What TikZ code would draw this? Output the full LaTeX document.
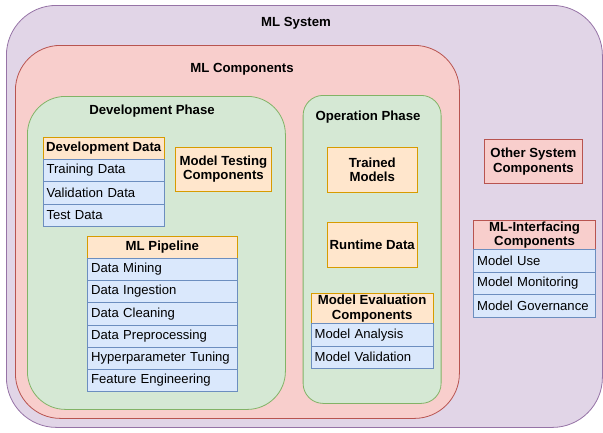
\documentclass[tikz,border=0pt]{standalone}
\usepackage{fontspec}
\setmainfont{Liberation Sans}
\usetikzlibrary{positioning}

\definecolor{sysfill}{HTML}{E1D5E7}
\definecolor{sysline}{HTML}{9673A6}
\definecolor{compfill}{HTML}{F8CECC}
\definecolor{compline}{HTML}{B85450}
\definecolor{phasefill}{HTML}{D5E8D4}
\definecolor{phaseline}{HTML}{82B366}
\definecolor{itemfill}{HTML}{FFE6CC}
\definecolor{itemline}{HTML}{D79B00}
\definecolor{rowfill}{HTML}{DAE8FC}
\definecolor{rowline}{HTML}{6C8EBF}

\begin{document}
\begin{tikzpicture}[x=1pt,y=-1pt,
  box/.style={anchor=north west,inner sep=0pt,line width=0.8pt},
  sysbox/.style={box,draw=sysline,fill=sysfill,rounded corners=50pt},
  compbox/.style={box,draw=compline,fill=compfill,rounded corners=45pt},
  phasebox/.style={box,draw=phaseline,fill=phasefill},
  title/.style={font=\fontsize{13.2}{14}\selectfont\bfseries},
  item/.style={box,draw=itemline,fill=itemfill,align=center,font=\fontsize{13.2}{14.5}\selectfont\bfseries},
  other/.style={item,draw=compline,fill=compfill},
  row/.style={box,draw=rowline,fill=rowfill,minimum height=22.3,inner xsep=3.5pt,align=left,font=\fontsize{13.1}{14}\selectfont}]
\useasboundingbox (0,0) rectangle (603,432);
% nested containers
\node[sysbox,minimum width=596,minimum height=422] (mlsys) at (6,5) {};
\node[compbox,minimum width=444,minimum height=373] (mlcomp) at (15,45) {};
\node[phasebox,rounded corners=38pt,minimum width=258,minimum height=313] (devphase) at (27,96) {};
\node[phasebox,rounded corners=20pt,minimum width=138,minimum height=308] (opphase) at (302.7,95) {};
\node[title] (mlsystitle) at (296,23) {ML System};
\node[title] (mlcomptitle) at (242,69) {ML Components};
\node[title] (devtitle) at (152,111) {Development Phase};
\node[title] (optitle) at (368,117) {Operation Phase};

% development phase
\node[item,minimum width=121.3,minimum height=22.3] (devdata) at (42.7,136.7) {Development Data};
\foreach \txt [count=\i] in {Training Data,Validation Data,Test Data}
  \node[row,text width=114.3] (devdata\i) at (42.7,{159+22.3*(\i-1)}) {\txt};
\node[item,minimum width=96,minimum height=44.3] (testing) at (175,146.7) {Model Testing\\Components};
\node[item,minimum width=149.4,minimum height=22] (pipeline) at (87.3,235.7) {ML Pipeline};
\foreach \txt [count=\i] in {Data Mining,Data Ingestion,Data Cleaning,Data Preprocessing,Hyperparameter Tuning,Feature Engineering}
  \node[row,text width=142.4] (pipeline\i) at (87.3,{257.7+22.27*(\i-1)}) {\txt};

% operation phase
\node[item,minimum width=89.7,minimum height=44.7] (trained) at (327,147) {Trained\\Models};
\node[item,minimum width=89.7,minimum height=44.4] (runtime) at (327,222.3) {Runtime Data};
\node[item,minimum width=122,minimum height=30] (evaluation) at (310.7,293.3) {Model Evaluation\\Components};
\foreach \txt [count=\i] in {Model Analysis,Model Validation}
  \node[row,text width=115] (evaluation\i) at (310.7,{323.3+22.2*(\i-1)}) {\txt};

% rest of the system
\node[other,minimum width=98,minimum height=44] (othersys) at (484,139.3) {Other System\\Components};
\node[other,minimum width=121.7,minimum height=29.3] (interfacing) at (473.3,220) {ML-Interfacing\\Components};
\foreach \txt [count=\i] in {Model Use,Model Monitoring,Model Governance}
  \node[row,text width=114.7] (interfacing\i) at (473.3,{249.3+22.5*(\i-1)}) {\txt};
\end{tikzpicture}
\end{document}
